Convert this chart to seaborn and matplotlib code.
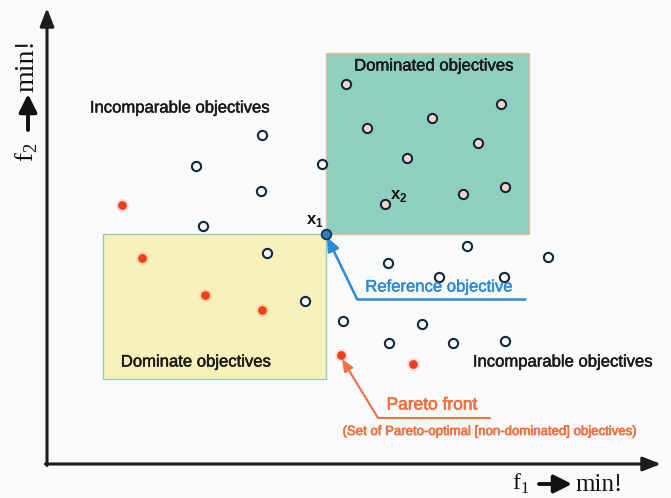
import matplotlib
matplotlib.use("Agg")
import matplotlib.pyplot as plt
import matplotlib.patches as mpatches
import matplotlib.patheffects as pe
import seaborn as sns

# objective values (f1, f2), both to be minimised; origin at the axes corner
incomparable_f1 = [215, 149, 214, 275, 156, 220, 258, 296, 341, 392, 420, 457, 501, 375, 342, 406, 458]
incomparable_f2 = [329, 298, 273, 300, 238, 211, 163, 143, 201, 187, 218, 187, 207, 140, 121, 121, 123]
dominated_f1 = [299, 320, 385, 454, 431, 360, 338, 416, 458]
dominated_f2 = [380, 336, 346, 360, 321, 306, 260, 270, 277]
pareto_f1 = [75, 95, 158, 215, 294, 366]
pareto_f2 = [259, 206, 169, 154, 109, 100]
reference_f1 = [279]
reference_f2 = [230]
x2_index = 6  # the dominated point labelled x2

# extent of the two regions relative to the reference objective
dominated_upper = (482, 411)
dominate_lower = (56, 85)

sns.set_theme(style="white")
plt.rcParams["font.family"] = ["Liberation Sans", "DejaVu Sans"]
plt.rcParams["mathtext.fontset"] = "custom"
plt.rcParams["mathtext.rm"] = "Liberation Serif"
plt.rcParams["mathtext.bf"] = "Liberation Sans:bold"

fig = plt.figure(figsize=(6.71, 4.98), dpi=100)
fig.patch.set_facecolor("#f9fafc")
ax = fig.add_axes([0, 0, 1, 1])
ax.set_facecolor("#f9fafc")
ax.set_xlim(-47, 624)
ax.set_ylim(-34, 464)
ax.axis("off")

rx, ry = reference_f1[0], reference_f2[0]
ax.add_patch(mpatches.Rectangle((rx, ry), dominated_upper[0] - rx, dominated_upper[1] - ry,
                                facecolor="#8ecfbf", edgecolor="#e8b8a0", lw=1, zorder=1))
ax.add_patch(mpatches.Rectangle(dominate_lower, rx - dominate_lower[0], ry - dominate_lower[1],
                                facecolor="#f6f1b8", edgecolor="#9cc9bd", lw=1, zorder=1))

# axes with arrow heads
arrow_kw = dict(arrowstyle="-|>,head_length=0.9,head_width=0.35", lw=2.2,
                color="#1c1c1c", shrinkA=0, shrinkB=0)
ax.annotate("", xy=(0, 456), xytext=(0, -1.5), arrowprops=arrow_kw)
ax.annotate("", xy=(614, 0), xytext=(-1.5, 0), arrowprops=arrow_kw)

# points
sns.scatterplot(x=incomparable_f1, y=incomparable_f2, ax=ax, s=44, color="white",
                edgecolor="#15263a", linewidth=1.5, zorder=3)
sns.scatterplot(x=dominated_f1, y=dominated_f2, ax=ax, s=44, color="#f8d5c6",
                edgecolor="#15263a", linewidth=1.5, zorder=3)
sns.scatterplot(x=pareto_f1, y=pareto_f2, ax=ax, s=90, color="#f47a5a",
                alpha=0.2, linewidth=0, zorder=3)
sns.scatterplot(x=pareto_f1, y=pareto_f2, ax=ax, s=40, color="#ee3f1f",
                linewidth=0, zorder=4)
sns.scatterplot(x=reference_f1, y=reference_f2, ax=ax, s=48, color="#2f7ec1",
                edgecolor="#17324d", linewidth=1.3, zorder=5)

# region labels
bolden = [pe.withStroke(linewidth=0.35, foreground="#1a1a1a")]
txt = dict(fontsize=12, color="#1a1a1a", ha="center", va="center", zorder=6,
           path_effects=bolden)
ax.text(133, 356, "Incomparable objectives", **txt)
ax.text(387, 398, "Dominated objectives", **txt)
ax.text(149, 102, "Dominate objectives", **txt)
ax.text(516, 102, "Incomparable objectives", **txt)

ax.text(rx - 11, ry + 13, r"$\mathbf{x}_\mathbf{1}$", fontsize=12, ha="center", va="center", color="#111")
ax.text(dominated_f1[x2_index] + 14, dominated_f2[x2_index] + 8, r"$\mathbf{x}_\mathbf{2}$",
        fontsize=12, ha="center", va="center", color="#111")

# reference objective callout
blue = "#2b8ad6"
ax.text(392, 177, "Reference objective", fontsize=12, color=blue, ha="center", va="center",
        path_effects=[pe.withStroke(linewidth=0.35, foreground=blue)])
ax.plot([310, 478], [165, 165], color=blue, lw=1.8)
ax.annotate("", xy=(rx + 1, ry - 3), xytext=(310, 165),
            arrowprops=dict(arrowstyle="-|>,head_length=0.7,head_width=0.3", lw=1.8,
                            color=blue, shrinkA=0, shrinkB=0))

# pareto front callout
orange = "#f2703f"
orange_fx = [pe.withStroke(linewidth=0.5, foreground=orange)]
ax.text(385, 59, "Pareto front", fontsize=12.5, color=orange, ha="center", va="center",
        path_effects=orange_fx)
ax.text(443, 32, "(Set of Pareto-optimal [non-dominated] objectives)", fontsize=9.5,
        color=orange, ha="center", va="center", path_effects=orange_fx)
ax.plot([331, 443], [46, 46], color=orange, lw=1.5)
ax.annotate("", xy=(pareto_f1[4] + 1, pareto_f2[4] - 4), xytext=(331, 46),
            arrowprops=dict(arrowstyle="-|>,head_length=0.6,head_width=0.25", lw=1.5,
                            color=orange, shrinkA=0, shrinkB=0))

# axis titles
serif = ["Liberation Serif", "DejaVu Serif"]
lab_arrow = dict(arrowstyle="-|>,head_length=0.9,head_width=0.45", lw=2.8,
                 color="#111", shrinkA=0, shrinkB=0)
ax.text(474, -20, r"$\mathrm{f}_1$", fontsize=17, ha="center", va="center", color="#111")
ax.annotate("", xy=(525, -20), xytext=(492, -20), arrowprops=lab_arrow)
ax.text(528, -21, "min!", family=serif, fontsize=18, ha="left", va="center", color="#111")

ax.text(-20, 312, r"$\mathrm{f}_2$", fontsize=19, rotation=90, ha="center", va="center", color="#111")
ax.annotate("", xy=(-19, 370), xytext=(-19, 334), arrowprops=lab_arrow)
ax.text(-20, 372, "min!", family=serif, fontsize=20, rotation=90, ha="center", va="bottom", color="#111")

fig.savefig("out.png", dpi=100, facecolor=fig.get_facecolor())
